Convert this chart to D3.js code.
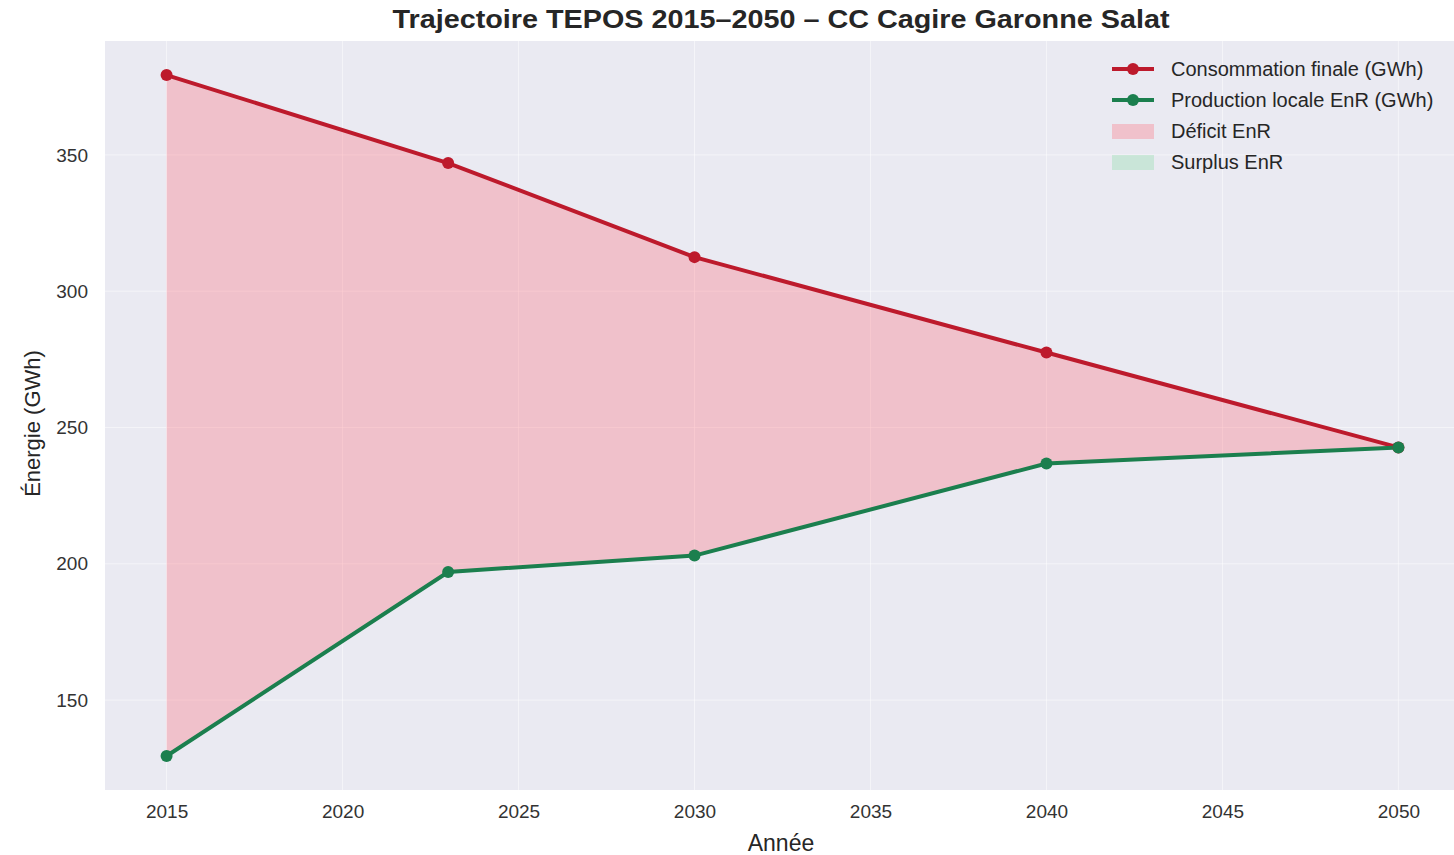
<!DOCTYPE html>
<html>
<head>
<meta charset="utf-8">
<script src="https://cdn.jsdelivr.net/npm/d3@7"></script>
<style>
  body { margin: 0; background: #fff; }
  svg { font-family: "Liberation Sans", Arial, sans-serif; }
  .tick text { fill: #333; font-size: 19px; }
</style>
</head>
<body>
<div id="chart"></div>
<script>
// years and values
var years = [2015, 2023, 2030, 2040, 2050];
var consommation = [379.3, 347.0, 312.5, 277.5, 242.7];
var production = [129.5, 197.0, 203.0, 236.8, 242.7];
var xTicks = [2015, 2020, 2025, 2030, 2035, 2040, 2045, 2050];
var yTicks = [150, 200, 250, 300, 350];
var legendLabels = ['Consommation finale (GWh)', 'Production locale EnR (GWh)', 'Déficit EnR', 'Surplus EnR'];

var chart = {
    padding: {l:105, r:0, t:41, b:65},
    w: 1454,
    h: 855,
    svg: null
};

var redCol = '#bd1a2c', greenCol = '#1b7f4e';

function drawChart() {
    chart.svg = d3.select('#chart').append('svg')
        .attr('width', chart.w)
        .attr('height', chart.h);

    var data = years.map(function(y, i) { return {x: y, c: consommation[i], p: production[i]}; });

    var xPad = (2050 - 2015) * 0.05;
    var yMin = d3.min(production), yMax = d3.max(consommation);
    var yPad = (yMax - yMin) * 0.05;

    var xScale = d3.scaleLinear()
        .domain([2015 - xPad, 2050 + xPad])
        .range([chart.padding.l, 1460]);
    var yScale = d3.scaleLinear()
        .domain([yMin - yPad, yMax + yPad])
        .range([chart.h - chart.padding.b, chart.padding.t]);

    var x0 = chart.padding.l, x1 = chart.w;
    var y0 = yScale.range()[1], y1 = yScale.range()[0];

    chart.svg.append('rect')
        .attr('x', x0).attr('y', y0)
        .attr('width', x1 - x0).attr('height', y1 - y0)
        .attr('fill', '#eaeaf2');

    // grid
    var grid = chart.svg.append('g').attr('class', 'grid');
    grid.selectAll('line.gx').data(xTicks).enter().append('line')
        .attr('x1', d => xScale(d)).attr('x2', d => xScale(d))
        .attr('y1', y0).attr('y2', y1)
        .attr('stroke', 'white').attr('stroke-opacity', 0.5).attr('stroke-width', 1);
    grid.selectAll('line.gy').data(yTicks).enter().append('line')
        .attr('x1', x0).attr('x2', x1)
        .attr('y1', d => yScale(d)).attr('y2', d => yScale(d))
        .attr('stroke', 'white').attr('stroke-opacity', 0.5).attr('stroke-width', 1);

    // deficit area between the curves
    var area = d3.area()
        .x(d => xScale(d.x))
        .y0(d => yScale(d.p))
        .y1(d => yScale(d.c));
    chart.svg.append('path')
        .datum(data)
        .attr('d', area)
        .attr('fill', '#ff6470')
        .attr('fill-opacity', 0.3);

    var lineC = d3.line().x(d => xScale(d.x)).y(d => yScale(d.c));
    var lineP = d3.line().x(d => xScale(d.x)).y(d => yScale(d.p));

    chart.svg.append('path').datum(data).attr('d', lineC)
        .attr('fill', 'none').attr('stroke', redCol).attr('stroke-width', 4);
    chart.svg.append('path').datum(data).attr('d', lineP)
        .attr('fill', 'none').attr('stroke', greenCol).attr('stroke-width', 4);

    chart.svg.selectAll('circle.c').data(data).enter().append('circle')
        .attr('cx', d => xScale(d.x)).attr('cy', d => yScale(d.c))
        .attr('r', 6).attr('fill', redCol);
    chart.svg.selectAll('circle.p').data(data).enter().append('circle')
        .attr('cx', d => xScale(d.x)).attr('cy', d => yScale(d.p))
        .attr('r', 6).attr('fill', greenCol);

    // axes
    var xAxis = d3.axisBottom(xScale).tickValues(xTicks).tickFormat(d3.format('d')).tickSize(0).tickPadding(15);
    var yAxis = d3.axisLeft(yScale).tickValues(yTicks).tickSize(0).tickPadding(17);

    chart.svg.append('g')
        .attr('class', 'axis x')
        .attr('transform', 'translate(0,' + y1 + ')')
        .call(xAxis)
        .call(g => g.select('.domain').remove());
    chart.svg.append('g')
        .attr('class', 'axis y')
        .attr('transform', 'translate(' + x0 + ',0)')
        .call(yAxis)
        .call(g => g.select('.domain').remove());

    chart.svg.append('text')
        .attr('x', 781).attr('y', 851)
        .attr('text-anchor', 'middle')
        .style('font-size', '23px').attr('fill', '#262626')
        .text('Année');
    chart.svg.append('text')
        .attr('transform', 'translate(40,' + ((y0 + y1) / 2 + 8) + ') rotate(-90)')
        .attr('text-anchor', 'middle')
        .style('font-size', '22px').attr('fill', '#262626')
        .text('Énergie (GWh)');

    chart.svg.append('text')
        .attr('x', 781).attr('y', 28)
        .attr('text-anchor', 'middle')
        .style('font-size', '26px').style('font-weight', 'bold').attr('fill', '#262626')
        .attr('textLength', 777).attr('lengthAdjust', 'spacingAndGlyphs')
        .text('Trajectoire TEPOS 2015–2050 – CC Cagire Garonne Salat');

    // legend
    var leg = chart.svg.append('g').attr('transform', 'translate(1112,69)');
    var legItems = [
        {type: 'line', col: redCol},
        {type: 'line', col: greenCol},
        {type: 'patch', col: '#ff6470', op: 0.3},
        {type: 'patch', col: '#7fd99a', op: 0.3}
    ];
    legItems.forEach(function(it, i) {
        var g = leg.append('g').attr('transform', 'translate(0,' + (i * 31) + ')');
        if (it.type === 'line') {
            g.append('line').attr('x1', 0).attr('x2', 42).attr('y1', 0).attr('y2', 0)
                .attr('stroke', it.col).attr('stroke-width', 4);
            g.append('circle').attr('cx', 21).attr('cy', 0).attr('r', 6).attr('fill', it.col);
        } else {
            g.append('rect').attr('x', 0).attr('y', -7).attr('width', 42).attr('height', 15)
                .attr('fill', it.col).attr('fill-opacity', it.op);
        }
        g.append('text').attr('x', 59).attr('y', 7)
            .style('font-size', '20px').attr('fill', '#262626')
            .text(legendLabels[i]);
    });
}

drawChart();
</script>
</body>
</html>
